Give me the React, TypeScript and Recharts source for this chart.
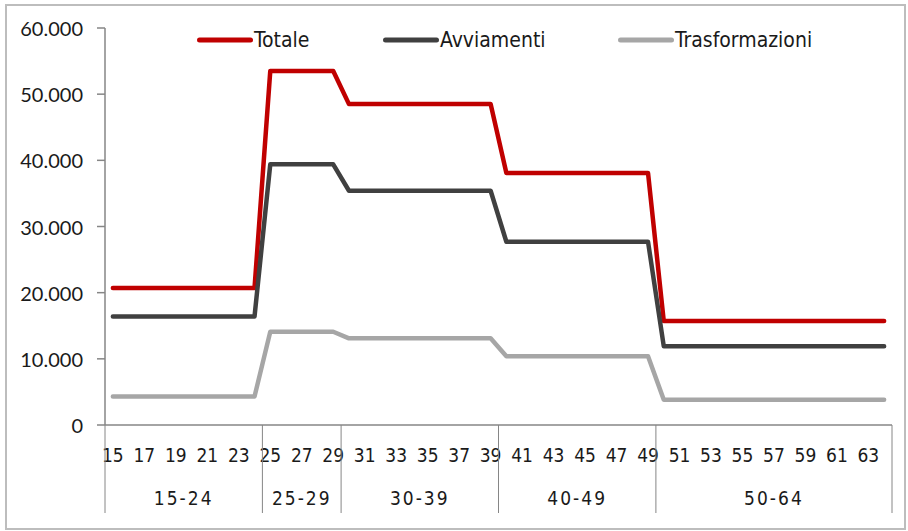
import React from 'react';
import { LineChart, Line, XAxis, YAxis, Legend } from 'recharts';

// ---- data ----
const ages = [
  15, 16, 17, 18, 19, 20, 21, 22, 23, 24,
  25, 26, 27, 28, 29,
  30, 31, 32, 33, 34, 35, 36, 37, 38, 39,
  40, 41, 42, 43, 44, 45, 46, 47, 48, 49,
  50, 51, 52, 53, 54, 55, 56, 57, 58, 59, 60, 61, 62, 63, 64,
];

const totale = [
  20700, 20700, 20700, 20700, 20700, 20700, 20700, 20700, 20700, 20700,
  53500, 53500, 53500, 53500, 53500,
  48500, 48500, 48500, 48500, 48500, 48500, 48500, 48500, 48500, 48500,
  38100, 38100, 38100, 38100, 38100, 38100, 38100, 38100, 38100, 38100,
  15700, 15700, 15700, 15700, 15700, 15700, 15700, 15700, 15700, 15700, 15700, 15700, 15700, 15700, 15700,
];

const avviamenti = [
  16400, 16400, 16400, 16400, 16400, 16400, 16400, 16400, 16400, 16400,
  39400, 39400, 39400, 39400, 39400,
  35400, 35400, 35400, 35400, 35400, 35400, 35400, 35400, 35400, 35400,
  27700, 27700, 27700, 27700, 27700, 27700, 27700, 27700, 27700, 27700,
  11900, 11900, 11900, 11900, 11900, 11900, 11900, 11900, 11900, 11900, 11900, 11900, 11900, 11900, 11900,
];

const trasformazioni = [
  4300, 4300, 4300, 4300, 4300, 4300, 4300, 4300, 4300, 4300,
  14100, 14100, 14100, 14100, 14100,
  13100, 13100, 13100, 13100, 13100, 13100, 13100, 13100, 13100, 13100,
  10400, 10400, 10400, 10400, 10400, 10400, 10400, 10400, 10400, 10400,
  3800, 3800, 3800, 3800, 3800, 3800, 3800, 3800, 3800, 3800, 3800, 3800, 3800, 3800, 3800,
];

const groupLabels = ['15-24', '25-29', '30-39', '40-49', '50-64'];
const groupStartAges = [15, 25, 30, 40, 50];
const groupSizes = [10, 5, 10, 10, 15];

const yTicks = [0, 10000, 20000, 30000, 40000, 50000, 60000];

const seriesNames = ['Totale', 'Avviamenti', 'Trasformazioni'];

// ---- styles / layout ----
const W = 908;
const H = 531;
const MARGIN = { top: 28, right: 16, bottom: 0, left: 0 };
const YAXIS_W = 105;
const XAXIS_H = 106;
const PLOT_W = W - MARGIN.left - MARGIN.right - YAXIS_W;
const BAND = PLOT_W / ages.length;

const COLORS = ['#C00000', '#404040', '#A6A6A6'];
const AXIS_COLOR = '#868686';
const TEXT_COLOR = '#1a1a1a';
const NARROW = "'Liberation Sans Narrow', 'DejaVu Sans Condensed', 'Roboto', sans-serif";
const YFONT = "Lato, 'Open Sans', sans-serif";

const data = ages.map((a, i) => ({
  age: a,
  Totale: totale[i],
  Avviamenti: avviamenti[i],
  Trasformazioni: trasformazioni[i],
}));

const fmt = (v: number) =>
  v === 0 ? '0' : String(v).replace(/\B(?=(\d{3})+(?!\d))/g, '.');

const YTick = (props: any) => {
  const { x, y, payload } = props;
  return (
    <text
      x={x}
      y={y}
      textAnchor="end"
      dominantBaseline="central"
      style={{ fontFamily: YFONT, fontSize: 20, fill: TEXT_COLOR }}
    >
      {fmt(Number(payload?.value))}
    </text>
  );
};

const XTick = (props: any) => {
  const { x, y, payload } = props;
  const i: number = payload?.index ?? props.index ?? 0;
  const age = payload?.value;
  const left = x - BAND / 2;
  const right = x + BAND / 2;
  const gIdx = groupStartAges.indexOf(Number(age));
  return (
    <g>
      {i % 2 === 0 && (
        <text
          x={x}
          y={y + 30}
          textAnchor="middle"
          dominantBaseline="central"
          style={{ fontFamily: NARROW, fontSize: 19, fill: TEXT_COLOR }}
        >
          {age}
        </text>
      )}
      {gIdx >= 0 && (
        <>
          <line x1={left} y1={y} x2={left} y2={y + 88} stroke={AXIS_COLOR} strokeWidth={1} />
          <text
            x={left + (groupSizes[gIdx] * BAND) / 2}
            y={y + 73}
            textAnchor="middle"
            dominantBaseline="central"
            style={{ fontFamily: NARROW, fontSize: 19, fill: TEXT_COLOR, letterSpacing: 2 }}
          >
            {groupLabels[gIdx]}
          </text>
        </>
      )}
      {i === ages.length - 1 && (
        <line x1={right} y1={y} x2={right} y2={y + 88} stroke={AXIS_COLOR} strokeWidth={1} />
      )}
    </g>
  );
};

const LEGEND_LEFTS = [197, 383, 618];

const LegendContent = () => (
  <div style={{ position: 'relative', width: W, height: 30 }}>
    {seriesNames.map((n, k) => (
      <div
        key={n}
        style={{
          position: 'absolute',
          left: LEGEND_LEFTS[k],
          top: 0,
          height: 30,
          display: 'flex',
          alignItems: 'center',
          whiteSpace: 'nowrap',
        }}
      >
        <svg width={56} height={10} style={{ display: 'block' }}>
          <line x1={2.5} y1={5} x2={53.5} y2={5} stroke={COLORS[k]} strokeWidth={5} strokeLinecap="round" />
        </svg>
        <span
          style={{
            fontFamily: NARROW,
            fontSize: 21,
            color: TEXT_COLOR,
            marginLeft: 1,
            lineHeight: '30px',
          }}
        >
          {n}
        </span>
      </div>
    ))}
  </div>
);

export default function App() {
  return (
    <div style={{ position: 'absolute', left: 0, top: 0, width: W, height: H, background: '#fff' }}>
      <div
        style={{
          position: 'absolute',
          left: 5,
          top: 4,
          width: 897,
          height: 522,
          border: '2px solid #bdbdbd',
          pointerEvents: 'none',
        }}
      />
      <LineChart width={W} height={H} data={data} margin={MARGIN}>
        <XAxis
          dataKey="age"
          type="category"
          scale="band"
          interval={0}
          height={XAXIS_H}
          tickSize={0}
          tickMargin={0}
          tickLine={false}
          axisLine={{ stroke: AXIS_COLOR, strokeWidth: 1.5 }}
          tick={<XTick />}
        />
        <YAxis
          width={YAXIS_W}
          domain={[0, 60000]}
          ticks={yTicks}
          interval={0}
          tickSize={8}
          tickMargin={14}
          axisLine={{ stroke: AXIS_COLOR, strokeWidth: 1.5 }}
          tickLine={{ stroke: AXIS_COLOR, strokeWidth: 1.5 }}
          tick={<YTick />}
        />
        <Legend
          layout="vertical"
          align="center"
          verticalAlign="middle"
          wrapperStyle={{ top: 25, left: 0, width: W }}
          content={<LegendContent />}
        />
        {seriesNames.map((n, k) => (
          <Line
            key={n}
            type="linear"
            dataKey={n}
            stroke={COLORS[k]}
            strokeWidth={4.5}
            strokeLinecap="round"
            strokeLinejoin="round"
            dot={false}
            activeDot={false}
            isAnimationActive={false}
          />
        ))}
      </LineChart>
    </div>
  );
}
